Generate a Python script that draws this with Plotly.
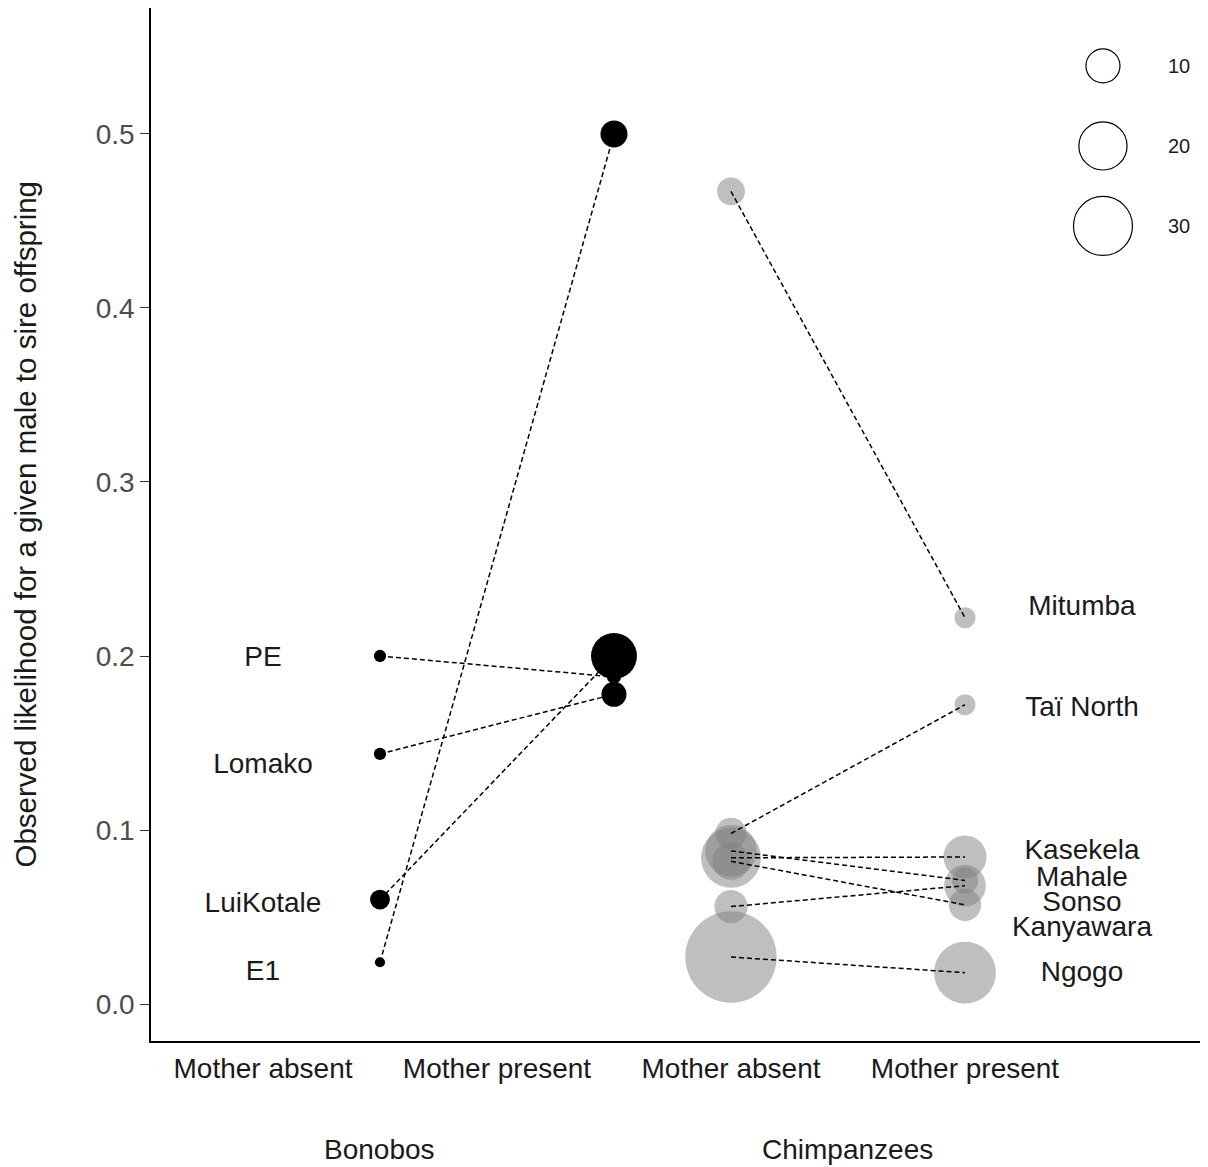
import plotly.graph_objects as go

# ---------------- data ----------------
tick_positions = [1, 2, 3, 4]
tick_labels = ["Mother absent", "Mother present", "Mother absent", "Mother present"]
group_names = ["Bonobos", "Chimpanzees"]
group_positions = [1.5, 3.5]

bonobo_pops = ["PE", "Lomako", "LuiKotale", "E1"]
bonobo_absent = [0.200, 0.1437, 0.060, 0.024]
bonobo_present = [0.188, 0.178, 0.200, 0.500]
bonobo_n_absent = [1.3, 1.3, 3.4, 0.9]
bonobo_n_present = [1.7, 5.4, 18.2, 6.3]
bonobo_label_y = [0.198, 0.1368, 0.0569, 0.0178]

chimp_pops = ["Mitumba", "Taï North", "Kasekela", "Mahale", "Sonso", "Kanyawara", "Ngogo"]
chimp_absent = [0.467, 0.098, 0.084, 0.088, 0.056, 0.082, 0.027]
chimp_present = [0.222, 0.172, 0.0845, 0.071, 0.068, 0.057, 0.018]
chimp_n_absent = [6.7, 8.5, 31, 23, 9.5, 12, 72]
chimp_n_present = [3.8, 3.8, 16, 6, 15, 9, 33]
chimp_label_y = [0.2273, 0.1693, 0.0873, 0.0719, 0.0575, 0.0431, 0.0173]

legend_values = [10, 20, 30]

yticks = [0.0, 0.1, 0.2, 0.3, 0.4, 0.5]

# ---------------- style ----------------
FONT = "Liberation Sans, Arial, sans-serif"
SIZEREF = 1 / 58.0
BONOBO_X = (1.5, 2.5)
CHIMP_X = (3, 4)
LABEL_X = {"bonobo": 1, "chimp": 4.5}
DASH = dict(color="black", width=1.5, dash="5px,3px")

fig = go.Figure()

# bonobo points
fig.add_trace(go.Scatter(
    x=[BONOBO_X[0]] * len(bonobo_pops) + [BONOBO_X[1]] * len(bonobo_pops),
    y=bonobo_absent + bonobo_present,
    mode="markers",
    marker=dict(size=bonobo_n_absent + bonobo_n_present, sizemode="area", sizeref=SIZEREF,
                color="black", opacity=1, line=dict(width=0)),
    showlegend=False, hoverinfo="skip"))

# chimp points
fig.add_trace(go.Scatter(
    x=[CHIMP_X[0]] * len(chimp_pops) + [CHIMP_X[1]] * len(chimp_pops),
    y=chimp_absent + chimp_present,
    mode="markers",
    marker=dict(size=chimp_n_absent + chimp_n_present, sizemode="area", sizeref=SIZEREF,
                color="rgb(128,128,128)", opacity=0.5, line=dict(width=0)),
    showlegend=False, hoverinfo="skip"))

# dashed connecting lines (on top)
for a, p in zip(bonobo_absent, bonobo_present):
    fig.add_trace(go.Scatter(x=list(BONOBO_X), y=[a, p], mode="lines", line=DASH,
                             showlegend=False, hoverinfo="skip"))
for a, p in zip(chimp_absent, chimp_present):
    fig.add_trace(go.Scatter(x=list(CHIMP_X), y=[a, p], mode="lines", line=DASH,
                             showlegend=False, hoverinfo="skip"))

# population labels
fig.add_trace(go.Scatter(
    x=[LABEL_X["bonobo"]] * len(bonobo_pops), y=bonobo_label_y, text=bonobo_pops,
    mode="text", textposition="middle center",
    textfont=dict(family=FONT, size=28, color="#1a1a1a"),
    showlegend=False, hoverinfo="skip"))
fig.add_trace(go.Scatter(
    x=[LABEL_X["chimp"]] * len(chimp_pops), y=chimp_label_y, text=chimp_pops,
    mode="text", textposition="middle center",
    textfont=dict(family=FONT, size=28, color="#1a1a1a"),
    showlegend=False, hoverinfo="skip"))

# size legend on an overlay axis
leg_y = [0.944 - i * 0.0775 for i in range(len(legend_values))]
fig.add_trace(go.Scatter(
    x=[0.9075] * len(legend_values), y=leg_y, xaxis="x2", yaxis="y2",
    mode="markers",
    marker=dict(size=legend_values, sizemode="area", sizeref=SIZEREF, opacity=1,
                color="white", line=dict(color="black", width=1.2)),
    showlegend=False, hoverinfo="skip"))

annotations = []
for v, yy in zip(legend_values, leg_y):
    annotations.append(dict(x=0.98, y=yy, xref="paper", yref="paper", text=str(v),
                            showarrow=False, xanchor="center", yanchor="middle",
                            font=dict(family=FONT, size=20, color="#1a1a1a")))
for name, gx in zip(group_names, group_positions):
    annotations.append(dict(x=gx, y=-0.1055, xref="x", yref="paper", text=name,
                            showarrow=False, xanchor="center", yanchor="middle",
                            font=dict(family=FONT, size=28, color="#1a1a1a")))
annotations.append(dict(x=-0.1201, y=0.5, xref="paper", yref="paper",
                        text="Observed likelihood for a given male to sire offspring",
                        textangle=-90, showarrow=False, xanchor="center", yanchor="middle",
                        font=dict(family=FONT, size=29.5, color="#1a1a1a")))

# page body has an 8px margin, so the figure is 8px smaller on each side
fig.update_layout(
    width=1200, height=1159,
    margin=dict(l=143, r=8, t=0, b=126),
    paper_bgcolor="white", plot_bgcolor="white",
    font=dict(family=FONT),
    xaxis=dict(range=[0.5214, 5.0043], tickvals=tick_positions, ticktext=tick_labels,
               showgrid=False, zeroline=False, showline=True, linecolor="black", linewidth=1.5,
               ticks="", tickfont=dict(family=FONT, size=28, color="#1a1a1a"),
               ticklabelstandoff=2),
    yaxis=dict(range=[-0.02126, 0.5724], tickvals=yticks, tickformat=".1f",
               showgrid=False, zeroline=False, showline=True, linecolor="black", linewidth=1.5,
               ticks="outside", ticklen=9, tickwidth=1.2, tickcolor="#333333",
               tickfont=dict(family=FONT, size=28, color="#4d4d4d")),
    xaxis2=dict(range=[0, 1], overlaying="x", visible=False),
    yaxis2=dict(range=[0, 1], overlaying="y", visible=False),
    annotations=annotations,
)

fig.write_html("out.html")
